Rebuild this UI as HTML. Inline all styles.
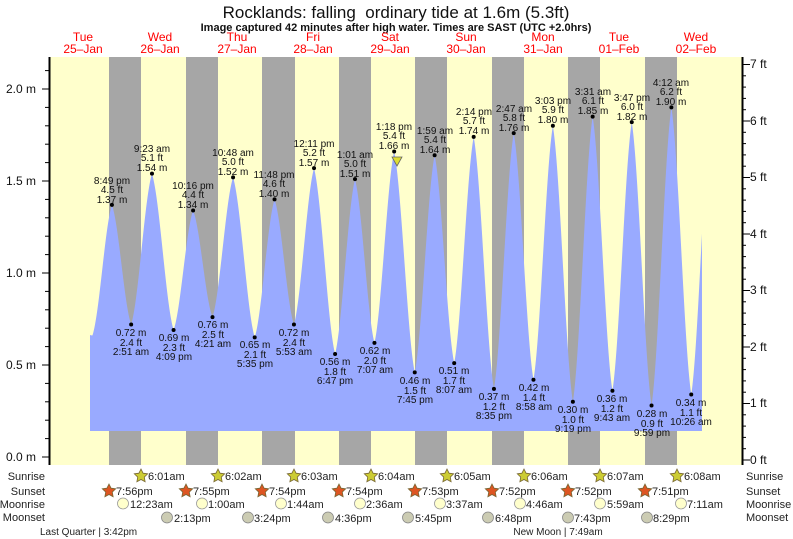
<!DOCTYPE html>
<html><head><meta charset="utf-8"><style>
html,body{margin:0;padding:0;background:#fff;}
svg{display:block;font-family:"Liberation Sans",Arial,sans-serif;}
.t{font-size:10px;fill:#111;text-anchor:middle;}
.r{font-size:11px;fill:#222;}
.ax{font-size:12px;fill:#111;}
.day{font-size:12px;fill:#f00;text-anchor:middle;}
</style></head><body>
<svg id="s" width="793" height="539" viewBox="0 0 793 539">
<rect x="0" y="0" width="793" height="539" fill="#fff"/>
<rect x="50" y="57" width="692" height="408" fill="#ffffcc"/>
<g fill="#a6a6a6">
<rect x="109" y="57" width="32" height="408"/><rect x="186" y="57" width="32" height="408"/>
<rect x="262" y="57" width="33" height="408"/><rect x="339" y="57" width="32" height="408"/>
<rect x="415" y="57" width="32" height="408"/><rect x="492" y="57" width="32" height="408"/>
<rect x="568" y="57" width="32" height="408"/><rect x="645" y="57" width="32" height="408"/>
</g>
<path id="tide" fill="#99aaff" d=""/>
<g id="dots" fill="#000"></g>
<polygon points="392,157 402,157 397,166" fill="#dddd33" stroke="#666" stroke-width="0.8"/>

<text x="396" y="18" font-size="17" text-anchor="middle" fill="#111">Rocklands: falling&#160; ordinary tide at 1.6m (5.3ft)</text>
<text x="396" y="31" font-size="11" font-weight="bold" text-anchor="middle" fill="#111">Image captured 42 minutes after high water. Times are SAST (UTC +2.0hrs)</text>
<g class="day">
<text x="83" y="41">Tue</text><text x="83" y="53">25–Jan</text>
<text x="160" y="41">Wed</text><text x="160" y="53">26–Jan</text>
<text x="237" y="41">Thu</text><text x="237" y="53">27–Jan</text>
<text x="313" y="41">Fri</text><text x="313" y="53">28–Jan</text>
<text x="390" y="41">Sat</text><text x="390" y="53">29–Jan</text>
<text x="466" y="41">Sun</text><text x="466" y="53">30–Jan</text>
<text x="543" y="41">Mon</text><text x="543" y="53">31–Jan</text>
<text x="619" y="41">Tue</text><text x="619" y="53">01–Feb</text>
<text x="696" y="41">Wed</text><text x="696" y="53">02–Feb</text>
</g>
<line x1="49.5" y1="57" x2="49.5" y2="465" stroke="#000" stroke-width="2"/>
<line x1="742.5" y1="57" x2="742.5" y2="465" stroke="#000" stroke-width="2"/>
<g id="ticks" stroke="#000" stroke-width="1"></g>
<g class="ax" text-anchor="end">
<text x="36" y="461">0.0 m</text><text x="36" y="369">0.5 m</text><text x="36" y="277">1.0 m</text><text x="36" y="185">1.5 m</text><text x="36" y="93">2.0 m</text>
</g>
<g class="ax">
<text x="750" y="464">0 ft</text><text x="750" y="407">1 ft</text><text x="750" y="351">2 ft</text><text x="750" y="294">3 ft</text><text x="750" y="238">4 ft</text><text x="750" y="181">5 ft</text><text x="750" y="125">6 ft</text><text x="750" y="68">7 ft</text>
</g>

<g class="t">
<text x="112" y="184">8:49 pm</text><text x="112" y="193">4.5 ft</text><text x="112" y="203">1.37 m</text>
<text x="152" y="152">9:23 am</text><text x="152" y="161">5.1 ft</text><text x="152" y="171">1.54 m</text>
<text x="193" y="189">10:16 pm</text><text x="193" y="198">4.4 ft</text><text x="193" y="208">1.34 m</text>
<text x="233" y="156">10:48 am</text><text x="233" y="165">5.0 ft</text><text x="233" y="175">1.52 m</text>
<text x="274" y="178">11:48 pm</text><text x="274" y="187">4.6 ft</text><text x="274" y="197">1.40 m</text>
<text x="314" y="147">12:11 pm</text><text x="314" y="156">5.2 ft</text><text x="314" y="166">1.57 m</text>
<text x="355" y="158">1:01 am</text><text x="355" y="167">5.0 ft</text><text x="355" y="177">1.51 m</text>
<text x="394" y="130">1:18 pm</text><text x="394" y="139">5.4 ft</text><text x="394" y="149">1.66 m</text>
<text x="435" y="134">1:59 am</text><text x="435" y="143">5.4 ft</text><text x="435" y="153">1.64 m</text>
<text x="474" y="115">2:14 pm</text><text x="474" y="124">5.7 ft</text><text x="474" y="134">1.74 m</text>
<text x="514" y="112">2:47 am</text><text x="514" y="121">5.8 ft</text><text x="514" y="131">1.76 m</text>
<text x="553" y="104">3:03 pm</text><text x="553" y="113">5.9 ft</text><text x="553" y="123">1.80 m</text>
<text x="593" y="95">3:31 am</text><text x="593" y="104">6.1 ft</text><text x="593" y="114">1.85 m</text>
<text x="632" y="101">3:47 pm</text><text x="632" y="110">6.0 ft</text><text x="632" y="120">1.82 m</text>
<text x="671" y="86">4:12 am</text><text x="671" y="95">6.2 ft</text><text x="671" y="105">1.90 m</text>

<text x="131" y="336">0.72 m</text><text x="131" y="346">2.4 ft</text><text x="131" y="355">2:51 am</text>
<text x="174" y="341">0.69 m</text><text x="174" y="351">2.3 ft</text><text x="174" y="360">4:09 pm</text>
<text x="213" y="328">0.76 m</text><text x="213" y="338">2.5 ft</text><text x="213" y="347">4:21 am</text>
<text x="255" y="348">0.65 m</text><text x="255" y="358">2.1 ft</text><text x="255" y="367">5:35 pm</text>
<text x="294" y="336">0.72 m</text><text x="294" y="346">2.4 ft</text><text x="294" y="355">5:53 am</text>
<text x="335" y="365">0.56 m</text><text x="335" y="375">1.8 ft</text><text x="335" y="384">6:47 pm</text>
<text x="375" y="354">0.62 m</text><text x="375" y="364">2.0 ft</text><text x="375" y="373">7:07 am</text>
<text x="415" y="384">0.46 m</text><text x="415" y="394">1.5 ft</text><text x="415" y="403">7:45 pm</text>
<text x="454" y="374">0.51 m</text><text x="454" y="384">1.7 ft</text><text x="454" y="393">8:07 am</text>
<text x="494" y="400">0.37 m</text><text x="494" y="410">1.2 ft</text><text x="494" y="419">8:35 pm</text>
<text x="534" y="391">0.42 m</text><text x="534" y="401">1.4 ft</text><text x="534" y="410">8:58 am</text>
<text x="573" y="413">0.30 m</text><text x="573" y="423">1.0 ft</text><text x="573" y="432">9:19 pm</text>
<text x="612" y="402">0.36 m</text><text x="612" y="412">1.2 ft</text><text x="612" y="421">9:43 am</text>
<text x="652" y="417">0.28 m</text><text x="652" y="427">0.9 ft</text><text x="652" y="436">9:59 pm</text>
<text x="691" y="406">0.34 m</text><text x="691" y="416">1.1 ft</text><text x="691" y="425">10:26 am</text>
</g>

<g class="r" text-anchor="end">
<text x="45" y="480">Sunrise</text><text x="45" y="495">Sunset</text><text x="45" y="508">Moonrise</text><text x="45" y="521">Moonset</text>
</g>
<g class="r">
<text x="746" y="480">Sunrise</text><text x="746" y="495">Sunset</text><text x="746" y="508">Moonrise</text><text x="746" y="521">Moonset</text>
</g>
<g id="icons"></g>
<g class="r">
<text x="148" y="480">6:01am</text><text x="225" y="480">6:02am</text><text x="301" y="480">6:03am</text><text x="378" y="480">6:04am</text>
<text x="454" y="480">6:05am</text><text x="531" y="480">6:06am</text><text x="607" y="480">6:07am</text><text x="684" y="480">6:08am</text>
<text x="116" y="495">7:56pm</text><text x="193" y="495">7:55pm</text><text x="269" y="495">7:54pm</text><text x="346" y="495">7:54pm</text>
<text x="422" y="495">7:53pm</text><text x="499" y="495">7:52pm</text><text x="575" y="495">7:52pm</text><text x="652" y="495">7:51pm</text>
<text x="130" y="508">12:23am</text><text x="208" y="508">1:00am</text><text x="287" y="508">1:44am</text><text x="366" y="508">2:36am</text>
<text x="446" y="508">3:37am</text><text x="526" y="508">4:46am</text><text x="607" y="508">5:59am</text><text x="687" y="508">7:11am</text>
<text x="174" y="522">2:13pm</text><text x="254" y="522">3:24pm</text><text x="335" y="522">4:36pm</text><text x="415" y="522">5:45pm</text>
<text x="495" y="522">6:48pm</text><text x="574" y="522">7:43pm</text><text x="653" y="522">8:29pm</text>
<text x="40" y="535" font-size="10">Last Quarter | 3:42pm</text>
<text x="558" y="535" font-size="10" text-anchor="middle">New Moon | 7:49am</text>
</g>
</svg>
<script>
(function(){
var X=function(H){return 45.5+H*3.19;}, Y=function(m){return 457-184*m;};
var ext=[[14.7,0.66],[20.82,1.37],[26.85,.72],[33.38,1.54],[40.15,.69],[46.27,1.34],[52.35,.76],[58.8,1.52],[65.58,.65],[71.8,1.40],[77.88,.72],[84.18,1.57],[90.78,.56],[97.02,1.51],[103.12,.62],[109.3,1.66],[115.75,.46],[121.98,1.64],[128.12,.51],[134.23,1.74],[140.58,.37],[146.78,1.76],[152.97,.42],[159.05,1.80],[165.32,.30],[171.52,1.85],[177.72,.36],[183.78,1.82],[189.98,.28],[196.2,1.90],[202.43,.34],[208.6,1.9]];
function val(H){
 if(H<ext[0][0]) return ext[0][1]+ (ext[0][0]-H)*0.004;
 for(var i=0;i<ext.length-1;i++){var a=ext[i],b=ext[i+1];if(H>=a[0]&&H<=b[0]){var f=(H-a[0])/(b[0]-a[0]);var s=0.45*f+0.55*(1-Math.cos(Math.PI*f))/2;return a[1]+(b[1]-a[1])*s;}}
 return ext[ext.length-1][1];}
var d="M90,431";
for(var x=90;x<=702;x+=0.5){var H=(x-45.5)/3.19;d+=" L"+x+","+Y(val(H)).toFixed(1);}
d+=" L702,431 Z";
document.getElementById("tide").setAttribute("d",d);
var g=document.getElementById("dots"),ns="http://www.w3.org/2000/svg";
for(var i=1;i<ext.length-1;i++){var c=document.createElementNS(ns,"circle");c.setAttribute("cx",X(ext[i][0]));c.setAttribute("cy",Y(ext[i][1]));c.setAttribute("r","2");g.appendChild(c);}
var t=document.getElementById("ticks"),s="";
for(var k=0;k<=21;k++){var y=457-18.4*k;var big=k%5==0;s+='<line x1="'+(big?42:45)+'" y1="'+y+'" x2="49" y2="'+y+'"/>';}
for(var k=0;k<=35;k++){var y=460-56.5*k/5;var big=k%5==0;s+='<line x1="743" y1="'+y+'" x2="'+(big?750:746)+'" y2="'+y+'"/>';}
t.innerHTML=s;
function star(cx,cy,r,fill){var p=[];for(var i=0;i<10;i++){var a=-Math.PI/2+i*Math.PI/5,rr=i%2?r*0.5:r;p.push((cx+rr*Math.cos(a)).toFixed(1)+","+(cy+rr*Math.sin(a)).toFixed(1));}return '<polygon points="'+p.join(" ")+'" fill="'+fill+'" stroke="#776633" stroke-width="0.8"/>';}
var h="";
[141,218,294,371,447,524,600,677].forEach(function(x){h+=star(x,476,7,"#cccc33");});
[109,186,262,339,415,492,568,645].forEach(function(x){h+=star(x,491,7,"#dd5522");});
[123,202,281,360,440,520,600,681].forEach(function(x){h+='<circle cx="'+x+'" cy="503.5" r="5.5" fill="#ffffcc" stroke="#999" stroke-width="0.8"/>';});
[167,248,328,408,488,568,647].forEach(function(x){h+='<circle cx="'+x+'" cy="517.5" r="5.5" fill="#ccccb3" stroke="#888" stroke-width="0.8"/>';});
document.getElementById("icons").innerHTML=h;
})();
</script>
</body></html>
